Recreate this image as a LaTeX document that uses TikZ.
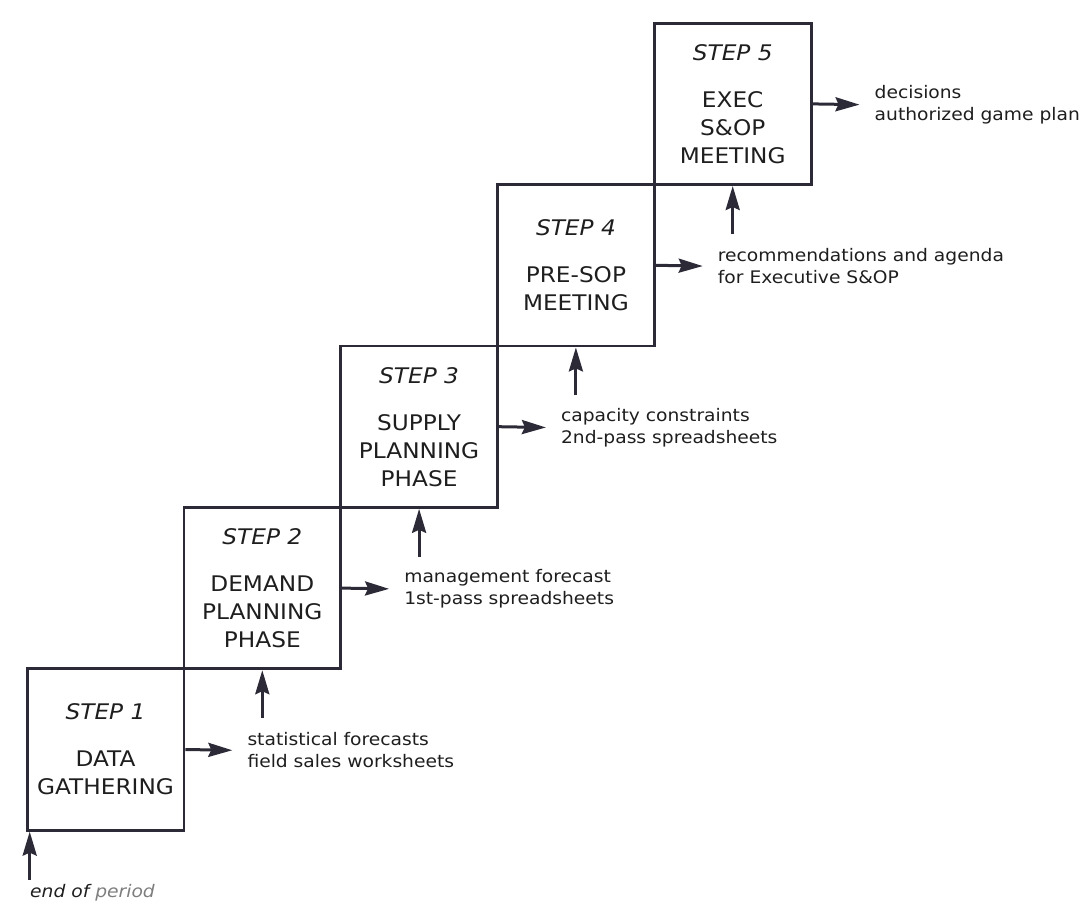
\documentclass[tikz,border=0pt]{standalone}
\usepackage{fontspec}
\setmainfont[FakeStretch=1.08]{DejaVu Sans}
\usetikzlibrary{arrows.meta,positioning}
\definecolor{ink}{RGB}{45,42,56}
\definecolor{txt}{RGB}{30,30,30}
\definecolor{faint}{RGB}{125,125,125}
\tikzset{
  stepbox/.style={draw=ink,line width=2.8pt,minimum width=156.8pt,minimum height=161.4pt,inner sep=0pt,align=center,text=txt,font=\fontsize{21.5}{28}\selectfont},
  outlabel/.style={anchor=west,align=left,text=txt,inner sep=0pt,font=\fontsize{17.3}{22}\selectfont},
  flow/.style={draw=ink,line width=3pt,arrows={-Stealth[length=24pt,width=14pt,inset=3pt]}}
}
\begin{document}
\begin{tikzpicture}[x=1pt,y=-1pt]
\useasboundingbox (0,0) rectangle (1087,905);
\foreach \i/\name in {1/{DATA\\GATHERING},2/{DEMAND\\PLANNING\\PHASE},3/{SUPPLY\\PLANNING\\PHASE},4/{PRE-SOP\\MEETING},5/{EXEC\\S\&OP\\MEETING}}
	\node[stepbox] (s\i) at (105.5+156.8*\i-156.8, 749.5-161.4*\i+161.4) {{\itshape STEP \i}\\[19pt]\name};
\foreach \i/\lbl in {1/{statistical forecasts\\field sales worksheets},2/{management forecast\\1st-pass spreadsheets},3/{capacity constraints\\2nd-pass spreadsheets},4/{recommendations and agenda\\for Executive S\&OP},5/{decisions\\authorized game plan}}
{
	\node[outlabel] (o\i) at ([xshift=62pt,yshift=-1pt]s\i.east) {\lbl};
	\draw[flow,shorten >=15pt] (s\i.east) -- (o\i.west);
}
\foreach \i in {2,...,5}
{
	\coordinate (u\i) at ([yshift=-48pt]s\i.south);
	\draw[flow] (u\i) -- (s\i.south);
}
\coordinate (u1) at ([xshift=4pt,yshift=-48pt]s1.south west);
\draw[flow] (u1) -- ([xshift=4pt]s1.south west);
\node[outlabel,font=\fontsize{17.3}{22}\selectfont\itshape] (eop) at (30,893) {end of \textcolor{faint}{period}};
\end{tikzpicture}
\end{document}
